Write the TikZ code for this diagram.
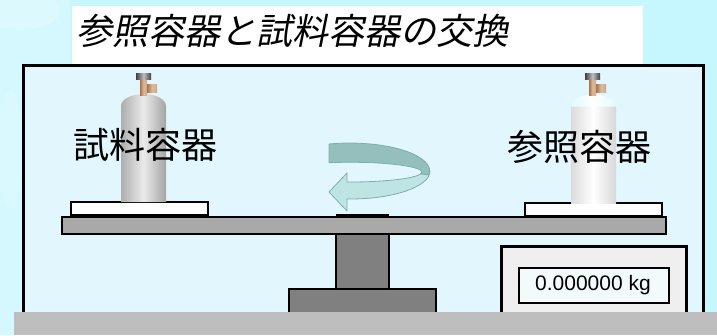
\documentclass[tikz,border=0pt]{standalone}
\usepackage{fontspec}
\setsansfont{Liberation Sans}
\newfontfamily\jpfont{Noto Sans CJK JP}
\newfontfamily\jpslant{Noto Sans CJK JP}[FakeSlant=0.2]
\definecolor{sky}{HTML}{C6F6FE}
\definecolor{room}{HTML}{E2F6FD}
\definecolor{beamgray}{HTML}{A9A9A9}
\definecolor{standgray}{HTML}{808080}
\definecolor{floorgray}{HTML}{BEBEBE}
\definecolor{panel}{HTML}{EFEFEF}
\definecolor{screen}{HTML}{F2FAFC}
\definecolor{arrowdark}{HTML}{93BFBC}
\definecolor{arrowlight}{HTML}{BEE4E4}
\definecolor{arrowedge}{HTML}{7FAFAD}
\definecolor{brassL}{HTML}{A8724A}
\definecolor{brassR}{HTML}{DDB99A}
\tikzset{
  outline/.style={draw=black, line width=2.5pt},
  plate/.style={outline, fill=white},
  stand/.style={draw=black, line width=1.5pt, fill=standgray},
  cjklabel/.style={inner sep=0pt, font=\jpfont\fontsize{36}{40}\selectfont},
  valvecap/.style={shading=axis, left color=black!75, right color=black!75, middle color=black!25},
  valvebrass/.style={shading=axis, left color=brassL, right color=brassL!60!white, middle color=brassR},
}
\begin{document}
\begin{tikzpicture}[x=1pt, y=-1pt]
\useasboundingbox (0,0) rectangle (717,335);
% backdrop
\fill[sky] (0,0) rectangle (717,335);
\fill[white, opacity=0.25] (0,0) rectangle (70,335);
\fill[white, opacity=0.2] (20,10) ellipse (40 and 20);
\fill[white, opacity=0.15] (10,150) ellipse (12 and 60);

% title panel
\fill[white] (72,6) rectangle (643,64);
\node[inner sep=0pt, anchor=west, font=\jpslant\fontsize{36}{40}\selectfont] (title) at (76,31) {参照容器と試料容器の交換};

% enclosure
\draw[line width=3.5pt, fill=room] (23.5,65.5) rectangle (703.5,325);

% balance stand
\draw[stand] (289,289) rectangle (436,320);
\draw[stand] (336,234) rectangle (389,289);
\fill[black] (336,213.5) rectangle (389,217);
\draw[outline, fill=beamgray] (62,217) rectangle (666,234);

% weighing pans
\draw[plate] (71,202) rectangle (208,215);
\draw[plate] (525,203) rectangle (662,216);

% sample cylinder (left)
\shade[shading=axis, left color=black!32, right color=black!36, middle color=black!8]
  (121,202) -- (121,106) arc[start angle=180, end angle=360, x radius=22.5, y radius=12] -- (166,202) -- cycle;
\shade[valvebrass] (140,79) rectangle (147,95);
\shade[valvebrass] (147,84) rectangle (157,92);
\shade[valvecap] (136,73) rectangle (151,79);

% reference cylinder (right)
\shade[shading=axis, left color=black!14, right color=black!16, middle color=white]
  (571,203) -- (571,106) -- (616,106) -- (616,203) -- cycle;
\shade[shading=axis, left color=sky!55!white, right color=sky!55!white, middle color=white]
  (571,106.5) arc[start angle=180, end angle=360, x radius=22.5, y radius=12] -- cycle;
\shade[valvebrass] (589,79) rectangle (596,95);
\shade[valvebrass] (596,84) rectangle (606,92);
\shade[valvecap] (585,73) rectangle (600,79);

% labels
\node[cjklabel] (sample) at (145,145) {試料容器};
\node[cjklabel] (reference) at (579,147) {参照容器};

% exchange arrow: lower (light) band with head, then upper (dark) band
\draw[arrowedge, line width=0.8pt, fill=arrowlight, line join=round]
  (430,171) arc[start angle=0, end angle=90, x radius=80, y radius=28]
  -- (347,199) -- (347,211) -- (329,192) -- (347,173) -- (347,182) -- (350,182)
  arc[start angle=90, end angle=0, x radius=72, y radius=10] -- cycle;
\draw[arrowedge, line width=0.8pt, fill=arrowdark, line join=round]
  (329,144) arc[start angle=-105, end angle=8, x radius=80, y radius=28]
  -- (421,174)
  arc[start angle=10, end angle=-107, x radius=72, y radius=10] -- cycle;

% display unit
\draw[line width=3pt, fill=panel] (501,246) rectangle (686,325);
\draw[line width=2pt, fill=screen] (519,268) rectangle (669,303);
\node[inner sep=0pt, font=\sffamily\fontsize{21}{24}\selectfont] (reading) at (593,285.5) {0.000000 kg};

% floor
\fill[floorgray] (14,312) rectangle (717,335);
\end{tikzpicture}
\end{document}
